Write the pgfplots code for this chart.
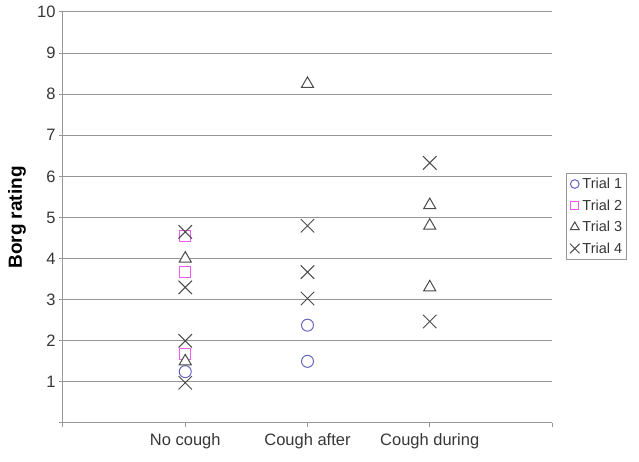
\documentclass[border=0pt]{standalone}
\usepackage{pgfplots}
\pgfplotsset{compat=1.18}
\usetikzlibrary{calc}
\usepackage{fontspec}
\setmainfont{Liberation Sans}
\definecolor{gridgray}{RGB}{150,150,150}
\definecolor{trialone}{RGB}{100,100,190}
\definecolor{trialtwo}{RGB}{240,90,240}
\definecolor{markgray}{RGB}{75,75,75}
\definecolor{txt}{RGB}{55,55,55}

\begin{document}
\begin{tikzpicture}
\begin{axis}[name=a, scale only axis, width=489pt, height=411pt,
    xmin=0, xmax=4, ymin=0, ymax=10,
    axis x line*=bottom, axis y line*=left,
    axis line style={gridgray, line width=1pt, -},
    xtick={0,1,2,3,4}, xticklabels={,No cough,Cough after,Cough during,},
    ytick={0,1,...,10}, yticklabels={,1,2,3,4,5,6,7,8,9,10},
    tick align=outside, major tick length=4pt,
    tick style={gridgray, line width=1pt},
    ymajorgrids, grid style={gridgray, line width=1pt},
    tick label style={font=\fontsize{16.5}{18}\selectfont, text=txt},
    xticklabel style={yshift=-3pt},
    /pgf/number format/assume math mode=true,
    ylabel={\textbf{Borg rating}},
    ylabel style={font=\fontsize{19}{21}\selectfont, text=black,
                  at={(axis description cs:-0.094,0.5)}, anchor=center},
    legend style={at={(axis description cs:1.029,0.608)}, anchor=north west,
                  draw=gridgray, line width=0.8pt, font=\fontsize{14.5}{16}\selectfont,
                  text=txt, row sep=5.5pt, inner sep=2.5pt},
    legend cell align=left,
    legend image code/.code={\path[draw=none, fill=none] (0,-0.05cm) rectangle (0.4cm,0.05cm);
        \draw[#1, mark options={scale=0.72}] plot coordinates {(0.2cm,0)};},
    clip=false]
\addplot[only marks, mark=o, mark size=6pt, trialone, line width=1pt, fill=white]
    coordinates {(1,1.25) (2,2.38) (2,1.5)};
\addlegendentry{Trial 1}
\addplot[only marks, mark=square*, mark size=5.5pt, trialtwo, line width=1pt, fill=white]
    coordinates {(1,4.55) (1,3.67) (1,1.67)};
\addlegendentry{Trial 2}
\addplot[only marks, mark=triangle*, mark size=7pt, markgray, line width=1pt, fill=white]
    coordinates {(1,4.0) (1,1.5) (2,8.25) (3,5.3) (3,4.8) (3,3.3)};
\addlegendentry{Trial 3}
\addplot[only marks, mark=x, mark size=9.5pt, markgray, line width=1pt]
    coordinates {(1,4.65) (1,3.3) (1,2.0) (1,0.98) (2,4.8) (2,3.67) (2,3.03) (3,6.33) (3,2.47)};
\addlegendentry{Trial 4}
\end{axis}
\path ($(a.south west)+(-63pt,-39pt)$) rectangle ++(639pt,462pt);
\end{tikzpicture}
\end{document}
